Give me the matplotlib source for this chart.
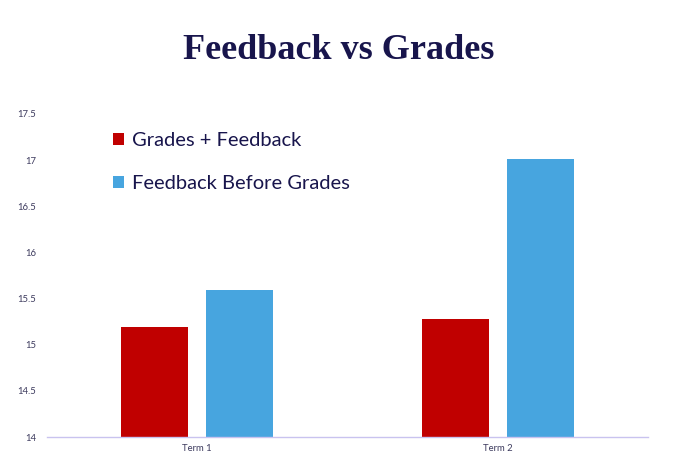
import numpy as np
import matplotlib.pyplot as plt

# data
terms = ["Term 1", "Term 2"]
grades_feedback = [15.19, 15.28]
feedback_before = [15.59, 17.01]
series_names = ["Grades + Feedback", "Feedback Before Grades"]
y_ticks = [14, 14.5, 15, 15.5, 16, 16.5, 17, 17.5]
y_tick_labels = ["14", "14.5", "15", "15.5", "16", "16.5", "17", "17.5"]

RED = "#c00000"
BLUE = "#47a5df"
NAVY = "#18154c"
TICK = "#3d3b5e"

fig = plt.figure(figsize=(6.8, 4.63), dpi=100)
ax = fig.add_axes([0.069, 0.056, 0.884, 0.698])

x = np.arange(len(terms))
w = 0.223
off = 0.142
ax.bar(x - off, grades_feedback, w, color=RED, label=series_names[0])
ax.bar(x + off, feedback_before, w, color=BLUE, label=series_names[1])

ax.set_xlim(-0.5, 1.5)
ax.set_ylim(14, 17.5)
ax.set_xticks(x)
ax.set_xticklabels(terms, fontsize=6.8, color=TICK, family="Lato")
ax.set_yticks(y_ticks)
ax.set_yticklabels(y_tick_labels, fontsize=6.8, color=TICK, family="Lato")
ax.tick_params(length=0)
ax.tick_params(axis="y", pad=8)
ax.tick_params(axis="x", pad=5)

for side in ["top", "right", "left"]:
    ax.spines[side].set_visible(False)
ax.spines["bottom"].set_color("#c9c3ef")
ax.spines["bottom"].set_linewidth(1)

leg = ax.legend(loc="upper left", bbox_to_anchor=(0.08, 1.0), frameon=False,
                prop={"family": "Lato", "size": 14.5}, handlelength=0.55,
                handleheight=0.55, handletextpad=0.4, labelspacing=1.3)
for t in leg.get_texts():
    t.set_color(NAVY)

fig.text(0.498, 0.872, "Feedback vs Grades", ha="center", va="baseline",
         fontsize=26, fontweight="bold", family="Liberation Serif", color=NAVY)

fig.savefig("out.png", dpi=100)
